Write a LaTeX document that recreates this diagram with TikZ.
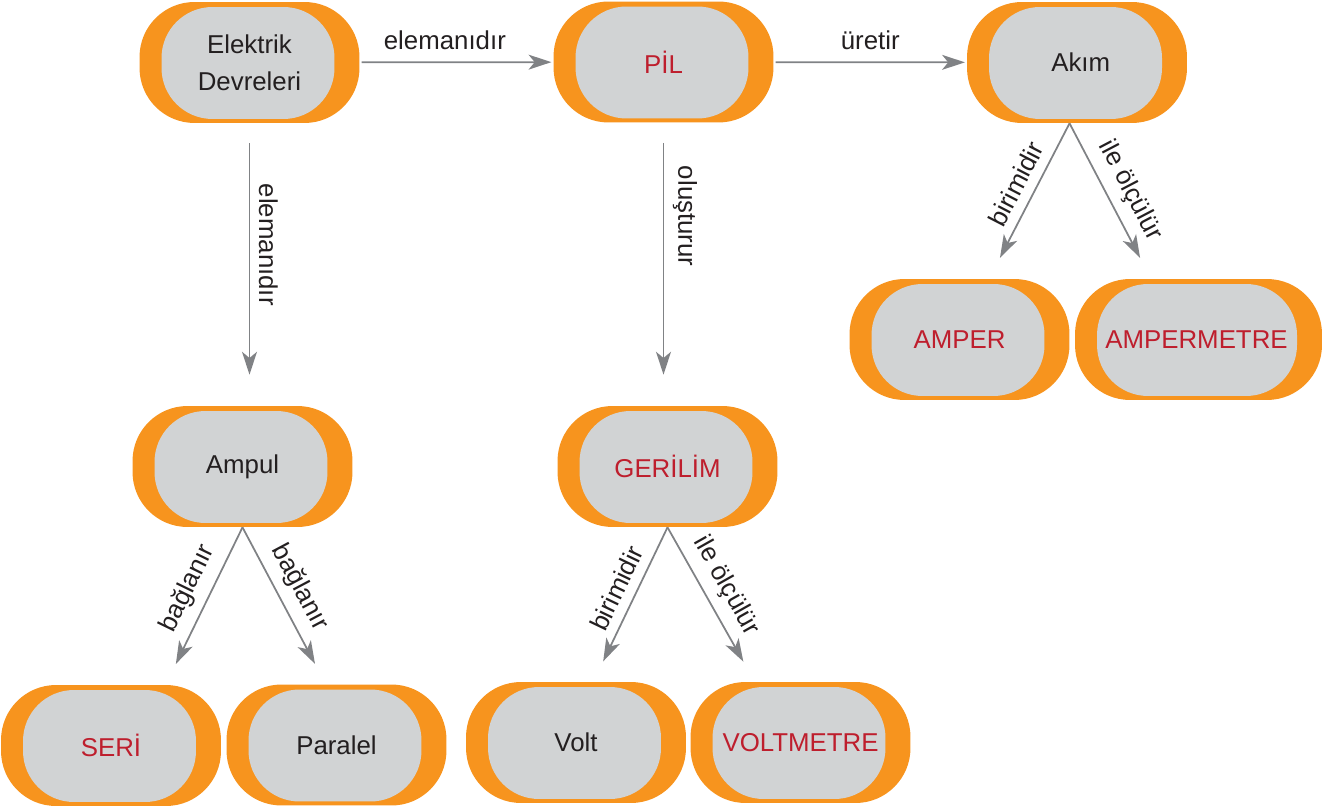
\documentclass[tikz,border=0pt]{standalone}
\usepackage{fontspec}
\setmainfont{Liberation Sans}
\usepackage{tikz}
\usetikzlibrary{arrows.meta}
\definecolor{pilorange}{RGB}{247,148,30}
\definecolor{pilgrey}{RGB}{209,211,212}
\definecolor{pilink}{RGB}{35,31,32}
\definecolor{pilred}{RGB}{190,30,45}
\definecolor{pilarrow}{RGB}{128,130,133}
\tikzset{concept/.style={
          rectangle, rounded corners=1.1cm, fill=pilorange,
          minimum width=4.4cm, minimum height=2.42cm, inner sep=0pt,
          text=pilink, align=center, font=\fontsize{14.7}{21}\selectfont,
          path picture={\fill[pilgrey, rounded corners=1.02cm]
            ([xshift=0.44cm,yshift=-0.1cm]path picture bounding box.north west) rectangle
            ([xshift=-0.5cm,yshift=0.08cm]path picture bounding box.south east);}
          },
        key concept/.style={concept, text=pilred},
        link/.style={draw=pilarrow, line width=1pt, -{Stealth[length=13pt,width=8.5pt,inset=3.5pt]}},
        link label/.style={text=pilink, font=\fontsize{14.7}{17.6}\selectfont, sloped},
}

\begin{document}
\begin{tikzpicture}[x=0.02cm, y=-0.02cm]
      \useasboundingbox (0,0) rectangle (1338,807);

      % TOP ROW
      \node[concept] (elektrik) at (249.5,62.5) {Elektrik\\Devreleri};
      \node[key concept] (pil) at (663.5,62) {P\.IL};
      \node[concept] (akim) at (1077,62.5) {\hspace*{0.15cm}Akım};

      % MIDDLE ROW
      \node[concept] (ampul) at (242.5,466.5) {Ampul};
      \node[key concept] (gerilim) at (667.5,466.5) {GER\.IL\.IM};
      \node[key concept] (amper) at (959.5,339.5) {\raisebox{-0.1cm}{AMPER}};
      \node[key concept, minimum width=4.94cm] (ampermetre) at (1198.5,339.5) {AMPERMETRE\hspace*{0.08cm}};

      % BOTTOM ROW
      \node[key concept] (seri) at (111,745.5) {SER\.I};
      \node[concept] (paralel) at (336.5,745) {Paralel};
      \node[concept] (volt) at (576,742.5) {Volt};
      \node[key concept] (voltmetre) at (800.5,742.5) {VOLTMETRE};

      % ARROWS
      \draw[link, shorten <=1pt, shorten >=1pt] (elektrik) -- node[link label, above=3.5pt, pos=0.44]{elemanıdır} (pil);
      \draw[link, shorten <=1pt, shorten >=1pt] (pil) -- node[link label, above=3.5pt, pos=0.5]{üretir} (akim);

      \draw[link, shorten <=0.4cm, shorten >=0.62cm] (elektrik.south) -- node[link label, above=1.5pt, pos=0.43]{elemanıdır} (elektrik.south |- ampul.north);
      \draw[link, shorten <=0.4cm, shorten >=0.62cm] (pil.south) -- node[link label, above=1.5pt, pos=0.33]{oluşturur} (pil.south |- gerilim.north);

      \draw[link, shorten >=0.46cm] (ampul.south) -- node[link label, above=2pt, pos=0.45]{bağlanır} (seri.48);
      \draw[link, shorten >=0.46cm] (ampul.south) -- node[link label, above=2pt, pos=0.45]{bağlanır} (paralel.100);

      \draw[link, shorten >=0.45cm] (gerilim.south) -- node[link label, above=2pt, pos=0.45]{birimidir} (volt.74);
      \draw[link, shorten >=0.46cm] (gerilim.south) -- node[link label, above=2pt, pos=0.45]{ile ölçülür} (voltmetre.127);

      \draw[link, shorten >=0.47cm] (akim.-97) -- node[link label, above=2pt, pos=0.45]{birimidir} (amper.64);
      \draw[link, shorten >=0.47cm] (akim.-97) -- node[link label, above=2pt, pos=0.5]{ile ölçülür} (ampermetre.128);

\end{tikzpicture}
\end{document}
